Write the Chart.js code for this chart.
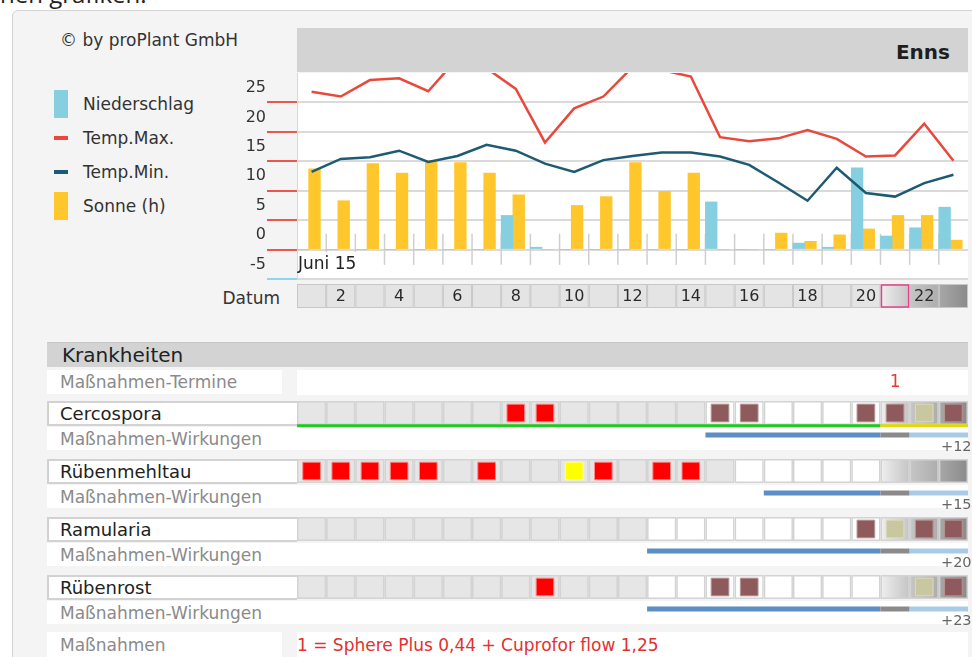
<!DOCTYPE html>
<html lang="de">
<head>
<meta charset="utf-8">
<title>Enns – Wetter und Krankheiten</title>
<script src="https://cdn.jsdelivr.net/npm/chart.js@4.4.1/dist/chart.umd.min.js"></script>
<style>
  body { margin: 0; width: 972px; height: 657px; overflow: hidden; background: #fff; position: relative;
         font-family: "DejaVu Sans", sans-serif; color: #2a2a2a; }
  .abs { position: absolute; box-sizing: border-box; white-space: nowrap; }
  .box { background: #fff; display: flex; align-items: center; }
  .grau { color: #8a8a8a; font-size: 17px; padding-left: 13px; }
  #oben { left: 0; top: -18px; font: 24px "Open Sans", sans-serif; line-height: 24px; color: #222; }
  #panel { left: 12px; top: 10px; width: 970px; height: 660px; background: #f4f4f4;
           border: 1px solid #d4d4d4; border-radius: 6px 0 0 0; }
  #copy { left: 60px; top: 30px; font-size: 17px; line-height: 20px; color: #333; }
  #kopf { left: 297px; top: 28px; width: 671px; height: 44px; background: #d3d3d3;
          font-weight: bold; font-size: 20px; text-align: right; padding-right: 18px; line-height: 48px; color: #1e1e1e; }
  #datum { left: 180px; top: 288px; width: 100px; text-align: right; font-size: 17px; line-height: 20px; color: #333; }
  #juni { left: 298px; top: 252px; width: 60px; height: 22px; background: #fff; font-size: 17px; line-height: 22px; color: #222; z-index: 3; }
  #legende div.zeile { position: absolute; left: 54px; height: 34px; width: 200px; }
  #legende span.farbe { position: absolute; left: 0; width: 14px; }
  #legende span.text { position: absolute; left: 29px; top: 7px; font-size: 17px; line-height: 20px; color: #333; }
  canvas { position: absolute; left: 0; z-index: 2; }
  #c1 { top: 0; }
  #c2 { top: 366px; }
</style>
</head>
<body>
<div class="abs" id="oben">hen grafiken.</div>
<div class="abs" id="panel"></div>
<div class="abs" id="copy">© by proPlant GmbH</div>
<div class="abs" id="legende"></div>
<div class="abs" id="kopf">Enns</div>
<div class="abs" id="datum">Datum</div>
<div class="abs" id="juni">Juni 15</div>

<div class="abs" style="left:47px;top:342px;width:921px;height:25px;background:#d3d3d3;border-top:1px solid #c6c6c6;font-size:20px;line-height:24px;padding-left:15px;color:#222;">Krankheiten</div>
<div class="abs box grau" style="left:47px;top:370px;width:235px;height:24px;">Maßnahmen-Termine</div>
<div class="abs box" style="left:297px;top:370px;width:671px;height:25px;"></div>
<div id="zeilen"></div>
<div class="abs box grau" style="left:47px;top:632px;width:235px;height:25px;">Maßnahmen</div>
<div class="abs box" id="mtext" style="left:297px;top:632px;width:671px;height:25px;color:#e2312f;font-size:17px;"></div>

<canvas id="c1" width="972" height="330"></canvas>
<canvas id="c2" width="972" height="262"></canvas>

<script>
// Wetter
var days = [1, 2, 3, 4, 5, 6, 7, 8, 9, 10, 11, 12, 13, 14, 15, 16, 17, 18, 19, 20, 21, 22, 23];
var dayLabels = ['', '2', '', '4', '', '6', '', '8', '', '10', '', '12', '', '14', '', '16', '', '18', '', '20', '', '22', ''];
var niederschlag = [0, 0, 0, 0, 0, 0, 0, 5.8, 0.4, 0, 0, 0, 0, 0, 8.1, 0, 0, 1.1, 0.4, 13.9, 2.3, 3.7, 7.2];
var tempMax = [26.8, 26.0, 28.8, 29.1, 26.9, 32.5, 30.8, 27.3, 18.2, 24.0, 26.0, 31.0, 30.5, 29.4, 19.1, 18.4, 18.9, 20.3, 18.8, 15.8, 16.0, 21.4, 15.1];
var tempMin = [13.2, 15.4, 15.7, 16.8, 14.9, 15.9, 17.8, 16.8, 14.6, 13.2, 15.2, 15.9, 16.5, 16.5, 15.8, 14.4, 11.4, 8.3, 13.9, 9.6, 9.0, 11.3, 12.7];
var sonne = [13.7, 8.3, 14.6, 13.0, 15.1, 14.8, 13.0, 9.3, 0, 7.5, 9.0, 14.8, 9.9, 13.0, 0, 0, 2.8, 1.4, 2.5, 3.5, 5.8, 5.8, 1.6];
var yTicks = [-5, 0, 5, 10, 15, 20, 25];
var heute = 21;
var prognoseTage = 21; // ab hier unsichere Prognose

// Krankheiten
var krankheiten = ['Cercospora', 'Rübenmehltau', 'Ramularia', 'Rübenrost'];
// r = rot, y = gelb, b = braun (Prognose), k = khaki
var befallCercospora = ['', '', '', '', '', '', '', 'r', 'r', '', '', '', '', '', 'b', 'b', '', '', '', 'b', 'b', 'k', 'b'];
var befallMehltau = ['r', 'r', 'r', 'r', 'r', '', 'r', '', '', 'y', 'r', '', 'r', 'r', '', '', '', '', '', '', '', '', ''];
var befallRamularia = ['', '', '', '', '', '', '', '', '', '', '', '', '', '', '', '', '', '', '', 'b', 'k', 'b', 'b'];
var befallRost = ['', '', '', '', '', '', '', '', 'r', '', '', '', '', '', 'b', 'b', '', '', '', '', '', 'k', 'b'];
var weissAb = [15, 16, 13, 13];
var wirkungAb = [15, 17, 13, 13];
var wirkungPlus = ['+12', '+15', '+20', '+23'];
var ampelBis = [20, null, null, null];
var termineTage = [21];
var termineNr = ['1'];
var massnahmen = '1 = Sphere Plus 0,44 + Cuprofor flow 1,25';

var UI = '"DejaVu Sans", sans-serif';
Chart.defaults.font.family = UI;

var farben = { r: '#ff0000', y: '#ffff00', b: '#8e5a5c', k: '#c9c79f' };
var rahmen = { r: '#ff8a8a', y: '#ffff99', b: '#b59494', k: '#dedbbd' };
var verlauf = [['#efefef', '#c4c4c4'], ['#c6c6c6', '#adadad'], ['#a8a8a8', '#8a8a8a']];

function shade(ctx, x0, x1, d) {
    var p = verlauf[d - prognoseTage];
    var g = ctx.createLinearGradient(x0, 0, x1, 0);
    g.addColorStop(0, p[0]);
    g.addColorStop(1, p[1]);
    return g;
}

// Balken/Linien-Hilfen
function punkte(values, off) {
    return values.map(function (v, i) { return { x: days[i] - off, y: v }; });
}

var wetterDeko = {
    id: 'wetterDeko',
    beforeDraw: function (chart) {
        var ctx = chart.ctx, a = chart.chartArea, x = chart.scales.x;
        ctx.save();
        ctx.fillStyle = '#fff';
        ctx.fillRect(a.left, a.top, a.right - a.left, a.bottom - a.top);
        days.forEach(function (d) {
            var x0 = x.getPixelForValue(d - 1), x1 = x.getPixelForValue(d);
            ctx.fillStyle = d >= prognoseTage ? shade(ctx, x0, x1, d) : '#e4e4e4';
            ctx.fillRect(x0, 284, x1 - x0, 24);
            ctx.strokeStyle = '#c8c8c8';
            ctx.lineWidth = 1;
            ctx.strokeRect(x0 + 0.5, 284.5, x1 - x0 - 1, 23);
            if (d === heute) {
                ctx.strokeStyle = '#e8408c';
                ctx.lineWidth = 1.5;
                ctx.strokeRect(x0 + 1, 285, x1 - x0 - 2, 22);
            }
        });
        ctx.restore();
    },
    beforeDatasetsDraw: function (chart) {
        var ctx = chart.ctx, x = chart.scales.x, y = chart.scales.y;
        ctx.save();
        ctx.strokeStyle = '#cfcfcf';
        ctx.lineWidth = 1.5;
        for (var d = 1; d < days.length; d++) {
            var px = x.getPixelForValue(d);
            ctx.beginPath();
            ctx.moveTo(px, y.getPixelForValue(2.7));
            ctx.lineTo(px, y.getPixelForValue(-2.6));
            ctx.stroke();
        }
        ctx.restore();
    }
};

var wetter = new Chart(document.getElementById('c1'), {
    type: 'bar',
    data: {
        datasets: [{
            label: 'Niederschlag',
            data: punkte(niederschlag, 0.6),
            backgroundColor: '#86cfe0',
            barThickness: 11.7,
            order: 2
        }, {
            type: 'line',
            label: 'Temp.Max.',
            data: punkte(tempMax, 0.5),
            borderColor: '#e8493d',
            borderWidth: 2.5,
            pointRadius: 0,
            clip: 0,
            order: 1
        }, {
            type: 'line',
            label: 'Temp.Min.',
            data: punkte(tempMin, 0.5),
            borderColor: '#1d5a74',
            borderWidth: 2.5,
            pointRadius: 0,
            clip: 0,
            order: 1
        }, {
            label: 'Sonne (h)',
            data: punkte(sonne, 0.6),
            backgroundColor: '#ffc72c',
            barThickness: 11.7,
            order: 2
        }]
    },
    options: {
        responsive: false,
        animation: false,
        devicePixelRatio: 1,
        events: [],
        layout: { autoPadding: false, padding: { top: 73, right: 4, bottom: 11, left: 0 } },
        plugins: { legend: { display: false }, tooltip: { enabled: false } },
        scales: {
            x: {
                type: 'linear', min: 0, max: 23, offset: false,
                afterBuildTicks: function (s) { s.ticks = days.map(function (d) { return { value: d - 0.5 }; }); },
                afterFit: function (s) { s.height = 40; },
                ticks: {
                    autoSkip: false, maxRotation: 0, padding: 8, color: '#2a2a2a',
                    font: { size: 16 },
                    callback: function (v, i) { return dayLabels[i]; }
                },
                grid: { display: false, drawTicks: false },
                border: { display: false }
            },
            y: {
                min: -5, max: 30,
                afterBuildTicks: function (s) { s.ticks = yTicks.map(function (v) { return { value: v }; }); },
                afterFit: function (s) { s.width = 297; },
                ticks: { padding: 1, labelOffset: -14.5, color: '#333', font: { size: 16 } },
                grid: {
                    color: '#dadada', lineWidth: 2, tickLength: 30, tickWidth: 2,
                    tickColor: function (c) { return c.tick && c.tick.value === -5 ? '#8fd4ea' : '#e8584e'; }
                },
                border: { color: '#d8d8d8', width: 1 }
            }
        }
    },
    plugins: [wetterDeko]
});

// Legende aus den Datensätzen
var legende = document.getElementById('legende');
wetter.data.datasets.forEach(function (ds, i) {
    var zeile = document.createElement('div');
    zeile.className = 'zeile';
    zeile.style.top = (87 + 34 * i) + 'px';
    var f = document.createElement('span');
    f.className = 'farbe';
    var istLinie = ds.type === 'line';
    f.style.height = (istLinie ? 4 : 28) + 'px';
    f.style.top = (istLinie ? 15 : 3) + 'px';
    f.style.background = istLinie ? ds.borderColor : ds.backgroundColor;
    var t = document.createElement('span');
    t.className = 'text';
    t.textContent = ds.label;
    zeile.appendChild(f);
    zeile.appendChild(t);
    legende.appendChild(zeile);
});

// Zeilen-Beschriftung
var zeilen = document.getElementById('zeilen');
krankheiten.forEach(function (name, i) {
    var top = 401 + 58 * i;
    zeilen.insertAdjacentHTML('beforeend',
        '<div class="abs box" style="left:47px;top:' + top + 'px;width:250px;height:25px;border:2px solid #d2d2d2;border-right:0;font-size:18px;padding-left:11px;color:#222;">' + name + '</div>' +
        '<div class="abs box grau" style="left:47px;top:' + (top + 26) + 'px;width:921px;height:23px;">Maßnahmen-Wirkungen</div>' +
        '<div class="abs" style="left:941px;top:' + (top + 36) + 'px;font-size:14.5px;line-height:18px;color:#666;z-index:3;">' + wirkungPlus[i] + '</div>');
});
document.getElementById('mtext').textContent = massnahmen;

// Krankheiten-Raster
var rowPx = 58;
var befall = [befallCercospora, befallMehltau, befallRamularia, befallRost];
var wirkungFarben = ['#5b8ec5', '#8a8a8a', '#a9cbe7'];
var ampelFarben = ['#1fcb1f', '#e2d900'];

function rowY(i, px) { return i + px / rowPx; }

var sets = [];
befall.forEach(function (reihe, i) {
    var pts = [], bg = [], bc = [];
    reihe.forEach(function (c, k) {
        if (!c) return;
        pts.push({ x: days[k] - 0.5, y: rowY(i, 17) });
        bg.push(farben[c]);
        bc.push(rahmen[c]);
    });
    sets.push({
        label: krankheiten[i],
        data: pts,
        pointStyle: 'rect',
        pointRadius: 12.5,
        pointBackgroundColor: bg,
        pointBorderColor: bc,
        pointBorderWidth: 1
    });
    var wy = rowY(i, 39);
    sets.push({
        type: 'line',
        label: 'Wirkung ' + krankheiten[i],
        data: [{ x: wirkungAb[i] - 1, y: wy }, { x: prognoseTage - 1, y: wy }, { x: prognoseTage, y: wy }, { x: days.length, y: wy }],
        borderWidth: 5,
        borderCapStyle: 'butt',
        pointRadius: 0,
        segment: { borderColor: function (c) { return wirkungFarben[c.p0DataIndex]; } }
    });
    if (ampelBis[i]) {
        var ay = rowY(i, 29.7);
        sets.push({
            type: 'line',
            label: 'Ampel ' + krankheiten[i],
            data: [{ x: 0, y: ay }, { x: ampelBis[i], y: ay }, { x: days.length, y: ay }],
            borderWidth: 3,
            borderCapStyle: 'butt',
            pointRadius: 0,
            segment: { borderColor: function (c) { return ampelFarben[c.p0DataIndex]; } }
        });
    }
});

var rasterDeko = {
    id: 'rasterDeko',
    beforeDatasetsDraw: function (chart) {
        var ctx = chart.ctx, x = chart.scales.x, y = chart.scales.y;
        ctx.save();
        krankheiten.forEach(function (name, i) {
            var top = y.getPixelForValue(i) + 5;
            days.forEach(function (d) {
                var x0 = x.getPixelForValue(d - 1), x1 = x.getPixelForValue(d);
                if (d >= prognoseTage) ctx.fillStyle = shade(ctx, x0, x1, d);
                else ctx.fillStyle = d >= weissAb[i] ? '#ffffff' : '#e6e6e6';
                ctx.fillRect(x0, top, x1 - x0, 24);
                ctx.strokeStyle = '#d3d3d3';
                ctx.lineWidth = 1.5;
                ctx.strokeRect(x0 + 0.75, top + 0.75, x1 - x0 - 1.5, 22.5);
            });
        });
        ctx.restore();
    },
    afterDraw: function (chart) {
        var ctx = chart.ctx, x = chart.scales.x;
        ctx.save();
        ctx.fillStyle = '#e23a36';
        ctx.font = '17px ' + UI;
        ctx.textAlign = 'center';
        ctx.textBaseline = 'middle';
        termineTage.forEach(function (d, k) {
            ctx.fillText(termineNr[k], x.getPixelForValue(d - 0.5), chart.chartArea.top - 13);
        });
        ctx.restore();
    }
};

new Chart(document.getElementById('c2'), {
    type: 'scatter',
    data: { datasets: sets },
    options: {
        responsive: false,
        animation: false,
        devicePixelRatio: 1,
        events: [],
        layout: { autoPadding: false, padding: { top: 30, right: 4, bottom: 0, left: 297 } },
        plugins: { legend: { display: false }, tooltip: { enabled: false } },
        scales: {
            x: { type: 'linear', min: 0, max: 23, display: false },
            y: { type: 'linear', min: 0, max: 4, reverse: true, display: false }
        }
    },
    plugins: [rasterDeko]
});
</script>
</body>
</html>
